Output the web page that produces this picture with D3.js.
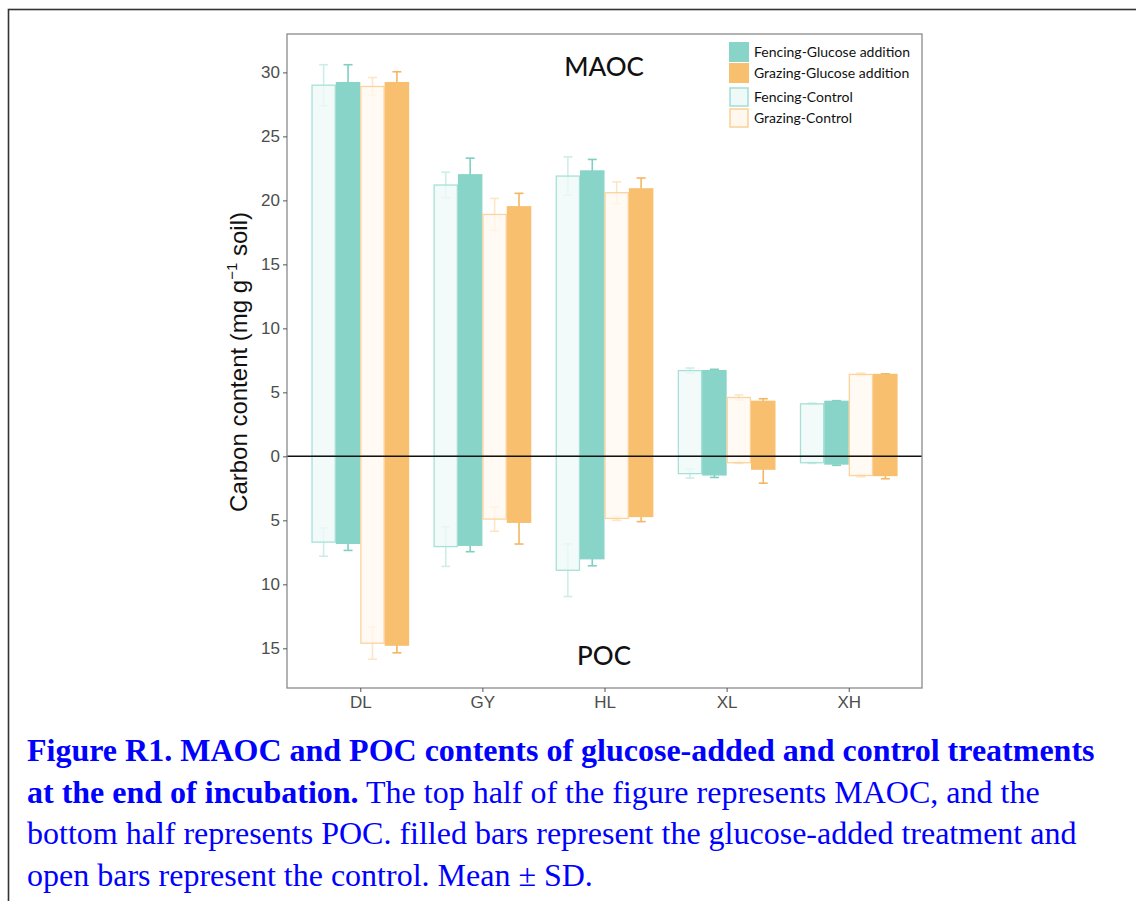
<!DOCTYPE html>
<html>
<head>
<meta charset="utf-8">
<script src="https://cdn.jsdelivr.net/npm/d3@7"></script>
<style>
  body { margin: 0; background: #fff; }
  svg { display: block; }
</style>
</head>
<body>
<div id="chart"></div>
<script>
// sites on the x axis
var sites = ["DL", "GY", "HL", "XL", "XH"];
var groups = ["Fencing-Control", "Fencing-Glucose addition", "Grazing-Control", "Grazing-Glucose addition"];

// MAOC means (top half), one array per group, in site order
var maocFenCtrl = [29.0, 21.2, 21.9, 6.7, 4.1];
var maocFenGlu  = [29.2, 22.0, 22.3, 6.7, 4.3];
var maocGraCtrl = [28.9, 18.9, 20.6, 4.6, 6.4];
var maocGraGlu  = [29.2, 19.5, 20.9, 4.3, 6.4];
// MAOC SD
var maocSdFenCtrl = [1.6, 1.0, 1.5, 0.2, 0.05];
var maocSdFenGlu  = [1.4, 1.3, 0.9, 0.1, 0.05];
var maocSdGraCtrl = [0.7, 1.25, 0.85, 0.2, 0.1];
var maocSdGraGlu  = [0.85, 1.05, 0.85, 0.2, 0.05];

// POC means (bottom half)
var pocFenCtrl = [6.7, 7.05, 8.9, 1.35, 0.5];
var pocFenGlu  = [6.8, 6.95, 8.0, 1.45, 0.6];
var pocGraCtrl = [14.6, 4.9, 4.85, 0.5, 1.5];
var pocGraGlu  = [14.75, 5.15, 4.7, 1.0, 1.5];
// POC SD
var pocSdFenCtrl = [1.1, 1.55, 2.05, 0.35, 0.05];
var pocSdFenGlu  = [0.55, 0.5, 0.55, 0.2, 0.1];
var pocSdGraCtrl = [1.25, 0.95, 0.15, 0.05, 0.1];
var pocSdGraGlu  = [0.6, 1.7, 0.4, 1.1, 0.25];

var yTicks = [-15, -10, -5, 0, 5, 10, 15, 20, 25, 30];

var maoc = [maocFenCtrl, maocFenGlu, maocGraCtrl, maocGraGlu];
var maocSd = [maocSdFenCtrl, maocSdFenGlu, maocSdGraCtrl, maocSdGraGlu];
var poc = [pocFenCtrl, pocFenGlu, pocGraCtrl, pocGraGlu];
var pocSd = [pocSdFenCtrl, pocSdFenGlu, pocSdGraCtrl, pocSdGraGlu];

var W = 1136, H = 901;
var panel = {left: 287, right: 922, top: 34, bottom: 688};

// styles per group: control = open bars, glucose = filled
var fillCol = ["#effaf8", "#88d4c8", "#fff8ef", "#f8bf6f"];
var lineCol = ["#a6e0d7", "#88d4c8", "#fcd39c", "#f8bf6f"];
var errCol  = ["#cdeee8", "#7fcfc2", "#fde6c6", "#f4b663"];

var svg = d3.select("#chart").append("svg")
    .attr("width", W)
    .attr("height", H);

// page frame (cropped document)
svg.append("rect")
    .attr("x", 8.5).attr("y", 9.5)
    .attr("width", W + 20).attr("height", H + 20)
    .attr("fill", "none")
    .attr("stroke", "#333")
    .attr("stroke-width", 1.6);

//scales
var x = d3.scalePoint()
    .domain(sites)
    .range([panel.left, panel.right])
    .padding(0.6);
var step = x.step();
var y = d3.scaleLinear()
    .domain([-18.1, 33.0])
    .range([panel.bottom, panel.top]);

var barW = step * 0.2;
var offsets = [-0.3, -0.1, 0.1, 0.3];

// flatten into rows for drawing
var rows = [];
sites.forEach(function (s, i) {
    groups.forEach(function (g, k) {
        rows.push({site: s, k: k, val: maoc[k][i], sd: maocSd[k][i], sign: 1});
        rows.push({site: s, k: k, val: poc[k][i], sd: pocSd[k][i], sign: -1});
    });
});
function cx(d) { return x(d.site) + offsets[d.k] * step; }

var plot = svg.append("g");

// error bars first, bars on top
var eb = plot.append("g").selectAll("g")
    .data(rows)
    .enter().append("g")
    .attr("stroke", function (d) { return errCol[d.k]; })
    .attr("stroke-width", 1.6)
    .attr("fill", "none");
eb.append("line")
    .attr("x1", cx).attr("x2", cx)
    .attr("y1", function (d) { return y(d.sign * (d.val - d.sd)); })
    .attr("y2", function (d) { return y(d.sign * (d.val + d.sd)); });
eb.append("line")
    .attr("x1", function (d) { return cx(d) - 4.5; })
    .attr("x2", function (d) { return cx(d) + 4.5; })
    .attr("y1", function (d) { return y(d.sign * (d.val + d.sd)); })
    .attr("y2", function (d) { return y(d.sign * (d.val + d.sd)); });
eb.append("line")
    .attr("x1", function (d) { return cx(d) - 4.5; })
    .attr("x2", function (d) { return cx(d) + 4.5; })
    .attr("y1", function (d) { return y(d.sign * (d.val - d.sd)); })
    .attr("y2", function (d) { return y(d.sign * (d.val - d.sd)); });

plot.append("g").selectAll("rect")
    .data(rows)
    .enter().append("rect")
    .attr("x", function (d) { return cx(d) - barW / 2 + 0.6; })
    .attr("width", barW - 1.2)
    .attr("y", function (d) { return Math.min(y(0), y(d.sign * d.val)); })
    .attr("height", function (d) { return Math.abs(y(d.sign * d.val) - y(0)); })
    .attr("fill", function (d) { return fillCol[d.k]; })
    .attr("fill-opacity", function (d) { return d.k % 2 === 0 ? 0.75 : 1; })
    .attr("stroke", function (d) { return lineCol[d.k]; })
    .attr("stroke-width", 1.3);

// zero line
svg.append("line")
    .attr("x1", panel.left).attr("x2", panel.right)
    .attr("y1", y(0)).attr("y2", y(0))
    .attr("stroke", "#111")
    .attr("stroke-width", 1.5);

// panel border
svg.append("rect")
    .attr("x", panel.left).attr("y", panel.top)
    .attr("width", panel.right - panel.left)
    .attr("height", panel.bottom - panel.top)
    .attr("fill", "none")
    .attr("stroke", "#8a8a8a")
    .attr("stroke-width", 1.3);

// axes
var yAxis = d3.axisLeft(y)
    .tickValues(yTicks)
    .tickSize(4)
    .tickPadding(3)
    .tickFormat(function (d) { return Math.abs(d); });
var gy = svg.append("g")
    .attr("transform", "translate(" + panel.left + ",0)")
    .call(yAxis);
gy.select(".domain").remove();
gy.selectAll("line").attr("stroke", "#555");
gy.selectAll("text")
    .attr("fill", "#4d4d4d")
    .style("font-family", "'Liberation Sans', Arial, sans-serif")
    .style("font-size", "17px");

var xAxis = d3.axisBottom(x).tickSize(4).tickPadding(4);
var gx = svg.append("g")
    .attr("transform", "translate(0," + panel.bottom + ")")
    .call(xAxis);
gx.select(".domain").remove();
gx.selectAll("line").attr("stroke", "#555");
gx.selectAll("text")
    .attr("fill", "#4d4d4d")
    .style("font-family", "'Liberation Sans', Arial, sans-serif")
    .style("font-size", "17px");

// y title
var yt = svg.append("text")
    .attr("transform", "translate(247,362) rotate(-90)")
    .attr("text-anchor", "middle")
    .style("font-family", "'Liberation Sans', Arial, sans-serif")
    .style("font-size", "24px")
    .attr("fill", "#111");
yt.append("tspan").text("Carbon content (mg g");
yt.append("tspan").attr("dy", -10).style("font-size", "15px").text("\u22121");
yt.append("tspan").attr("dy", 10).text(" soil)");

// panel labels
svg.append("text")
    .attr("x", 604).attr("y", 76)
    .attr("text-anchor", "middle")
    .style("font-family", "Lato, 'Open Sans', sans-serif")
    .style("font-size", "26px")
    .style("font-weight", "500")
    .attr("fill", "#111")
    .text("MAOC");
svg.append("text")
    .attr("x", 604).attr("y", 665)
    .attr("text-anchor", "middle")
    .style("font-family", "Lato, 'Open Sans', sans-serif")
    .style("font-size", "26px")
    .style("font-weight", "500")
    .attr("fill", "#111")
    .text("POC");

// legend
var legendOrder = [1, 3, 0, 2];
var legendY = [42, 63, 87, 108];
var lg = svg.append("g").selectAll("g")
    .data(legendOrder)
    .enter().append("g")
    .attr("transform", function (d, i) { return "translate(729," + legendY[i] + ")"; });
lg.append("rect")
    .attr("x", function (d) { return d % 2 === 0 ? 1 : 0; })
    .attr("y", function (d) { return d % 2 === 0 ? 1 : 0; })
    .attr("width", function (d) { return d % 2 === 0 ? 18 : 20; })
    .attr("height", function (d) { return d % 2 === 0 ? 18 : 20; })
    .attr("fill", function (d) { return fillCol[d]; })
    .attr("stroke", function (d) { return d % 2 === 0 ? lineCol[d] : "none"; })
    .attr("stroke-width", 1.6);
lg.append("text")
    .attr("x", 25).attr("y", 10)
    .attr("dy", "0.35em")
    .style("font-family", "Lato, 'Open Sans', sans-serif")
    .style("font-size", "14px")
    .attr("fill", "#111")
    .text(function (d) { return groups[d]; });

// caption
var capLines = [
    [{b: true, t: "Figure R1. MAOC and POC contents of glucose-added and control treatments"}],
    [{b: true, t: "at the end of incubation."}, {b: false, t: " The top half of the figure represents MAOC, and the"}],
    [{b: false, t: "bottom half represents POC. filled bars represent the glucose-added treatment and"}],
    [{b: false, t: "open bars represent the control. Mean \u00b1 SD."}]
];
var cap = svg.append("g")
    .style("font-family", "'Liberation Serif', 'Times New Roman', serif")
    .style("font-size", "32px")
    .attr("fill", "#0000ff");
capLines.forEach(function (line, i) {
    var t = cap.append("text")
        .attr("x", 27)
        .attr("y", 761 + i * 41.5)
        .attr("xml:space", "preserve");
    line.forEach(function (p) {
        t.append("tspan")
            .style("font-weight", p.b ? "bold" : "normal")
            .text(p.t);
    });
});
</script>
</body>
</html>
